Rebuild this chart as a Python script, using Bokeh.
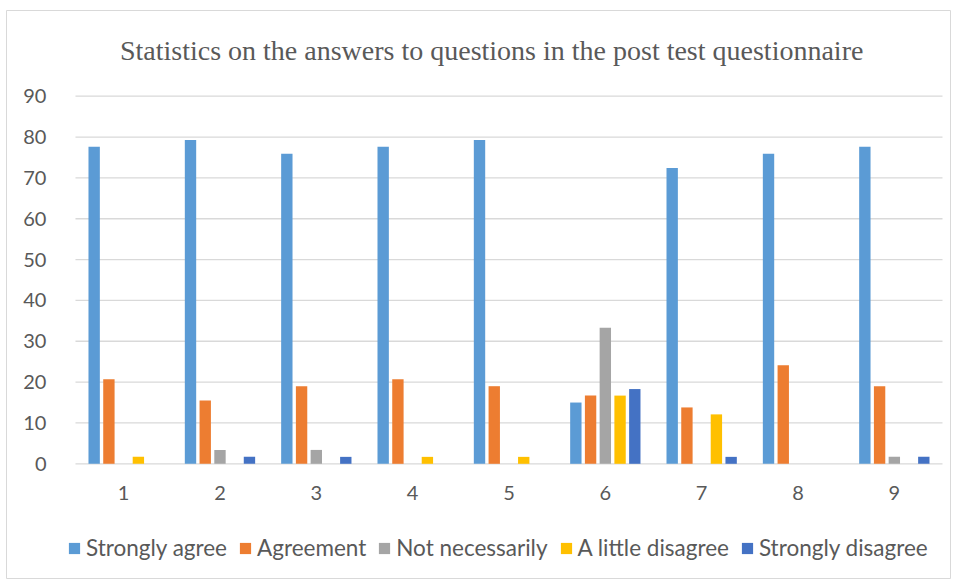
from bokeh.plotting import figure
from bokeh.models import ColumnDataSource, FixedTicker, Legend, LegendItem, Range1d, Label
from bokeh.transform import dodge
from bokeh.embed import file_html
from bokeh.resources import INLINE

questions = [1, 2, 3, 4, 5, 6, 7, 8, 9]
series_names = ["Strongly agree", "Agreement", "Not necessarily",
                "A little disagree", "Strongly disagree"]
strongly_agree = [77.6, 79.3, 75.9, 77.6, 79.3, 15.0, 72.4, 75.9, 77.6]
agreement = [20.7, 15.5, 19.0, 20.7, 19.0, 16.7, 13.8, 24.1, 19.0]
not_necessarily = [0, 3.4, 3.4, 0, 0, 33.3, 0, 0, 1.7]
little_disagree = [1.7, 0, 0, 1.7, 1.7, 16.7, 12.1, 0, 0]
strongly_disagree = [0, 1.7, 1.7, 0, 0, 18.3, 1.7, 0, 1.7]
y_ticks = [0, 10, 20, 30, 40, 50, 60, 70, 80, 90]

colors = ["#5B9BD5", "#ED7D31", "#A5A5A5", "#FFC000", "#4472C4"]
keys = ["sa", "ag", "nn", "ld", "sd"]
TEXT = "#595959"

source = ColumnDataSource(dict(
    q=questions, sa=strongly_agree, ag=agreement, nn=not_necessarily,
    ld=little_disagree, sd=strongly_disagree,
))

# The frame fills the whole chart box; the value area sits inside it,
# with the axes pinned to its edges.
p = figure(width=960, height=581, output_backend="svg", toolbar_location=None,
           x_range=Range1d(-0.216, 9.583), y_range=Range1d(-28.08, 110.98),
           min_border_left=6, min_border_right=10, min_border_top=10,
           min_border_bottom=3)
p.outline_line_color = "#d9d9d9"
p.outline_line_width = 1
p.title.visible = False

# horizontal value grid across the category span only
p.segment(x0=0.5, x1=9.5, y0=y_ticks, y1=y_ticks, line_color="#d9d9d9", line_width=1.3)

step = 0.153
renderers = []
for i, (k, c) in enumerate(zip(keys, colors)):
    r = p.vbar(x=dodge("q", (i - 2) * step, range=p.x_range), top=k, width=0.118,
               source=source, fill_color=c, line_color=None)
    renderers.append(r)

p.xaxis.ticker = FixedTicker(ticks=questions)
p.yaxis.ticker = FixedTicker(ticks=y_ticks)
p.xaxis.fixed_location = 0
p.yaxis.fixed_location = 0.5
for ax in (p.xaxis, p.yaxis):
    ax.axis_line_color = None
    ax.major_tick_line_color = None
    ax.minor_tick_line_color = None
    ax.major_label_text_font = "Lato"
    ax.major_label_text_font_size = "20px"
    ax.major_label_text_color = TEXT
p.yaxis.major_label_standoff = 23
p.xaxis.major_label_standoff = 16

p.xgrid.grid_line_color = None
p.ygrid.grid_line_color = None

p.add_layout(Label(x=4.82, y=101.2,
                   text="Statistics on the answers to questions in the post test questionnaire",
                   text_font="Liberation Serif", text_font_size="28px", text_color=TEXT,
                   text_align="center", text_baseline="middle"))

legend = Legend(items=[LegendItem(label=n, renderers=[r]) for n, r in zip(series_names, renderers)],
                orientation="horizontal", location=(61, 17),
                label_text_font="Lato", label_text_font_size="22.5px",
                label_text_color=TEXT, glyph_width=14, glyph_height=14,
                label_standoff=5, spacing=11, border_line_color=None,
                background_fill_alpha=0, padding=0, margin=0)
p.add_layout(legend)

open("out.html", "w").write(file_html(p, INLINE))
